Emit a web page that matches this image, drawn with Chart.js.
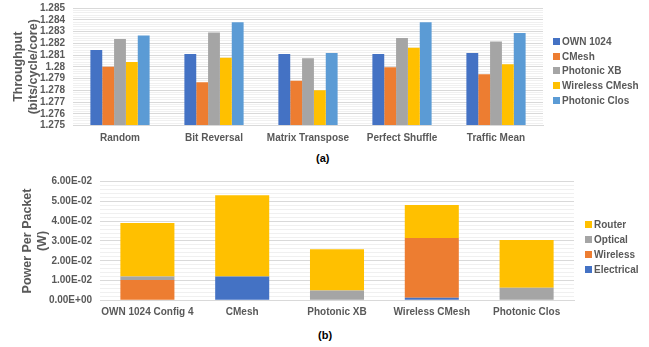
<!DOCTYPE html>
<html>
<head>
<meta charset="utf-8">
<script src="https://cdn.jsdelivr.net/npm/chart.js@4"></script>
<style>
  html, body { margin: 0; padding: 0; background: #fff; }
  body { width: 649px; height: 347px; position: relative; overflow: hidden; font-family: "Liberation Sans", Arial, sans-serif; }
  .wrap { position: absolute; left: 0; }
  .legend { position: absolute; font-size: 10px; font-weight: bold; color: #595959; }
  .legend div { position: absolute; white-space: nowrap; line-height: 12px; height: 12px; }
  .legend span { display: inline-block; width: 7px; height: 7px; margin-right: 2px; vertical-align: 0px; }
  .tag { position: absolute; font-size: 11px; font-weight: bold; color: #000; }
</style>
</head>
<body>
<div class="wrap" style="top:-6px;width:649px;height:157px"><canvas id="thru"></canvas></div>
<div class="legend" id="thruLegend" style="left:553px;top:0"></div>
<div class="tag" style="left:316px;top:152px">(a)</div>

<div class="wrap" style="top:165px;width:649px;height:157px"><canvas id="power"></canvas></div>
<div class="legend" id="powerLegend" style="left:585px;top:0"></div>
<div class="tag" style="left:318px;top:329px">(b)</div>

<script>
// throughput per traffic pattern
const patterns = ['Random', 'Bit Reversal', 'Matrix Transpose', 'Perfect Shuffle', 'Traffic Mean'];
const own1024 = [1.28143, 1.28109, 1.28109, 1.28109, 1.28118];
const cmesh = [1.27999, 1.27868, 1.27880, 1.27996, 1.27936];
const photonicXB = [1.28237, 1.28292, 1.28073, 1.28245, 1.28215];
const wirelessCMesh = [1.28040, 1.28076, 1.27799, 1.28162, 1.28021];
const photonicClos = [1.28265, 1.28378, 1.28118, 1.28378, 1.28287];

// power per packet breakdown per network
const networks = ['OWN 1024 Config 4', 'CMesh', 'Photonic XB', 'Wireless CMesh', 'Photonic Clos'];
const electricalPower = [0, 0.0120, 0, 0.00135, 0];
const wirelessPower = [0.0103, 0, 0, 0.0302, 0];
const opticalPower = [0.0018, 0, 0.0049, 0, 0.0064];
const routerPower = [0.0270, 0.0411, 0.0209, 0.0167, 0.0241];

const FONT = '"Liberation Sans", Arial, sans-serif';
const GREY = '#595959';
const MAJOR = '#d9d9d9';
const MINOR = '#f0f0f0';

const isMajor = (v, step) => Math.abs(v / step - Math.round(v / step)) < 1e-6;

function sci(v) {
  if (v === 0) return '0.00E+00';
  const [m, e] = v.toExponential(2).split('e');
  const n = parseInt(e, 10);
  return m + 'E' + (n < 0 ? '-' : '+') + String(Math.abs(n)).padStart(2, '0');
}

function legend(el, items, top, step) {
  el.innerHTML = items.map((it, i) =>
    `<div style="top:${top + i * step - 6}px"><span style="background:${it.color}"></span>${it.label}</div>`
  ).join('');
}

function yAxis(opts) {
  return {
    min: opts.min,
    max: opts.max,
    border: { display: false },
    afterFit: s => { s.width = opts.width; },
    grid: {
      drawTicks: false,
      color: c => isMajor(c.tick.value, opts.major) ? MAJOR : MINOR,
    },
    ticks: {
      stepSize: opts.minor,
      maxTicksLimit: 200,
      autoSkip: false,
      padding: 8,
      color: GREY,
      font: { family: FONT, size: 10, weight: 'bold' },
      callback: v => isMajor(v, opts.major) ? opts.format(v) : '',
    },
    title: {
      display: true,
      text: opts.title,
      color: GREY,
      font: { family: FONT, size: 12.5, weight: 'bold' },
      lineHeight: 1.2,
      padding: { top: opts.titlePad, bottom: 0 },
    },
  };
}

function xAxis(height, pad) {
  return {
    afterFit: s => { s.height = height; },
    border: { color: MAJOR },
    grid: { display: false, drawTicks: false },
    ticks: {
      padding: pad,
      color: GREY,
      autoSkip: false,
      maxRotation: 0,
      font: { family: FONT, size: 10, weight: 'bold' },
    },
  };
}

// (a) throughput
const thruSets = [
  { label: 'OWN 1024', data: own1024, backgroundColor: '#4472C4' },
  { label: 'CMesh', data: cmesh, backgroundColor: '#ED7D31' },
  { label: 'Photonic XB', data: photonicXB, backgroundColor: '#A5A5A5' },
  { label: 'Wireless CMesh', data: wirelessCMesh, backgroundColor: '#FFC000' },
  { label: 'Photonic Clos', data: photonicClos, backgroundColor: '#5B9BD5' },
];

new Chart(document.getElementById('thru'), {
  type: 'bar',
  data: {
    labels: patterns,
    datasets: thruSets.map(d => ({ ...d, base: 1.275, barPercentage: 1, categoryPercentage: 0.63 })),
  },
  options: {
    responsive: true,
    maintainAspectRatio: false,
    animation: false,
    layout: { padding: { top: 0, right: 106, left: 0, bottom: 0 } },
    plugins: { legend: { display: false }, tooltip: { enabled: false } },
    scales: {
      x: xAxis(25.5, 7),
      y: yAxis({
        min: 1.275, max: 1.285, major: 0.001, minor: 0.0002, width: 73, titlePad: 11,
        title: ['Throughput', '(bits/cycle/core)'],
        format: v => String(parseFloat(v.toFixed(3))),
      }),
    },
  },
});
legend(document.getElementById('thruLegend'),
  thruSets.map(d => ({ label: d.label, color: d.backgroundColor })), 41.7, 14.8);

// (b) power per packet, stacked
const powerSets = [
  { label: 'Electrical', data: electricalPower, backgroundColor: '#4472C4' },
  { label: 'Wireless', data: wirelessPower, backgroundColor: '#ED7D31' },
  { label: 'Optical', data: opticalPower, backgroundColor: '#A5A5A5' },
  { label: 'Router', data: routerPower, backgroundColor: '#FFC000' },
];

new Chart(document.getElementById('power'), {
  type: 'bar',
  data: {
    labels: networks,
    datasets: powerSets.map(d => ({ ...d, barPercentage: 1, categoryPercentage: 0.57 })),
  },
  options: {
    responsive: true,
    maintainAspectRatio: false,
    animation: false,
    layout: { padding: { top: 16.7, right: 75, left: 0, bottom: 0 } },
    plugins: { legend: { display: false }, tooltip: { enabled: false } },
    scales: {
      x: { ...xAxis(21.7, 6), stacked: true },
      y: {
        ...yAxis({
          min: 0, max: 0.06, major: 0.01, minor: 0.002, width: 100, titlePad: 20,
          title: ['Power Per Packet', '(W)'],
          format: sci,
        }),
        stacked: true,
      },
    },
  },
});
legend(document.getElementById('powerLegend'),
  powerSets.slice().reverse().map(d => ({ label: d.label, color: d.backgroundColor })), 225, 14.9);
</script>
</body>
</html>
